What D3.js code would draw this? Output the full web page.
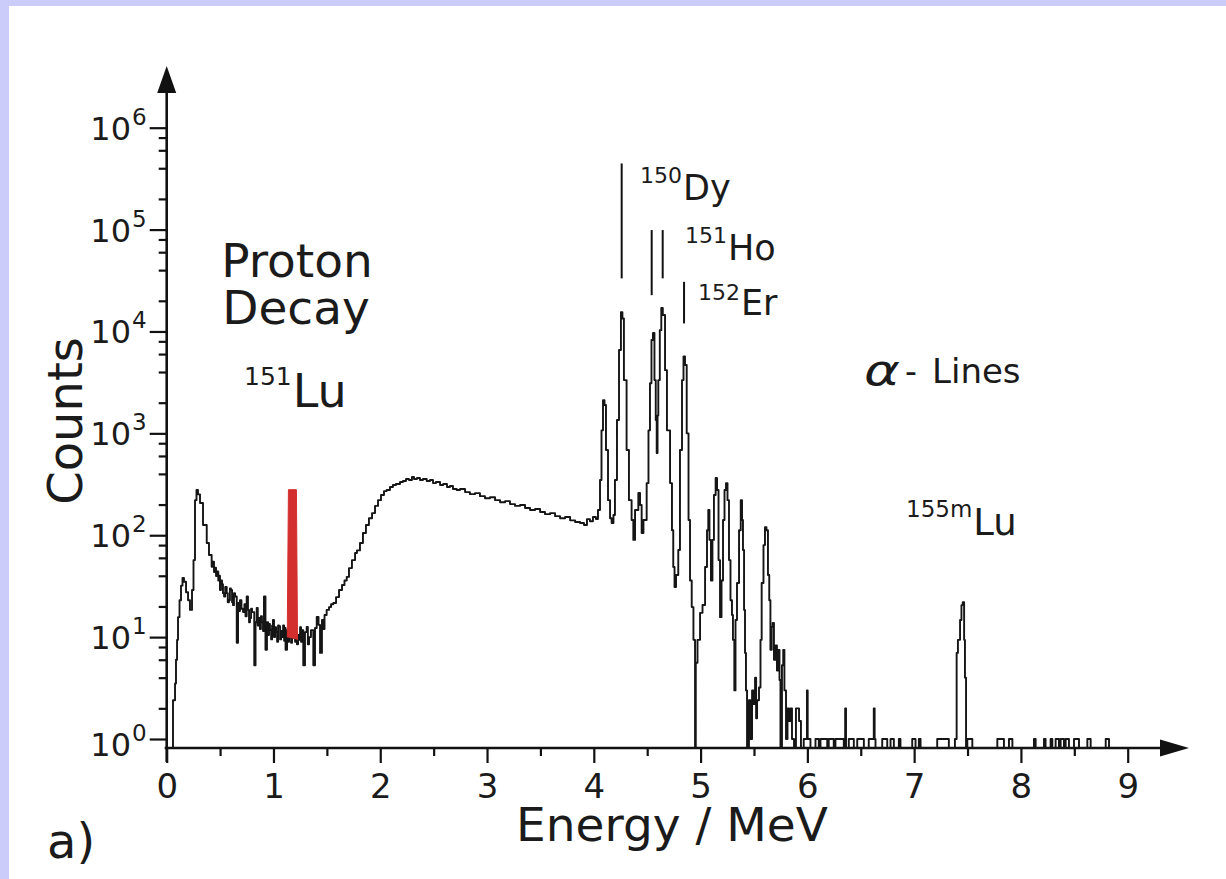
<!DOCTYPE html>
<html>
<head>
<meta charset="utf-8">
<script src="https://cdnjs.cloudflare.com/ajax/libs/d3/7.8.5/d3.min.js"></script>
<style>
body { margin: 0; background: #ccccfa; }
svg { display: block; }
text { font-family: 'DejaVu Sans', sans-serif; fill: #1b1b1b; }
</style>
</head>
<body>
<svg id="chart" width="1226" height="879"></svg>
<script>
// tick values
const ENERGY_TICKS = [0, 1, 2, 3, 4, 5, 6, 7, 8, 9];
const ENERGY_MINOR = [0.5, 1.5, 2.5, 3.5, 4.5, 5.5, 6.5, 7.5, 8.5];
const COUNT_DECADES = [0, 1, 2, 3, 4, 5, 6];
const MINOR_MANTISSA = [2, 4, 6, 8];

// spectrum, [energy MeV, counts]
const lowEnergy = [
    [0.05, 0], [0.059, 2.4], [0.078, 3.5], [0.087, 6], [0.097, 9.4], [0.106, 15.7], [0.12, 23],
    [0.134, 32], [0.148, 38], [0.162, 35], [0.181, 27.6], [0.2, 23], [0.218, 18.5], [0.237, 29],
    [0.251, 57], [0.265, 221], [0.279, 278], [0.293, 252], [0.312, 207], [0.34, 126], [0.375, 84],
    [0.396, 64], [0.421, 49], [0.43, 55], [0.443, 43.6], [0.452, 48], [0.462, 39.8], [0.47, 44],
    [0.483, 36], [0.49, 40], [0.499, 29], [0.508, 36], [0.518, 33], [0.527, 27], [0.537, 25],
    [0.548, 31], [0.562, 27], [0.572, 22], [0.583, 23], [0.592, 30], [0.602, 29], [0.612, 22],
    [0.621, 20.6], [0.63, 27], [0.64, 25], [0.656, 8.8], [0.668, 21.6], [0.677, 18], [0.686, 23],
    [0.7, 19], [0.715, 17.6], [0.728, 21], [0.738, 16], [0.749, 25], [0.761, 18.5], [0.771, 14],
    [0.78, 15.4], [0.79, 19], [0.799, 17.6], [0.82, 5.3], [0.832, 14], [0.843, 19.3], [0.853, 13],
    [0.864, 15.4], [0.873, 12], [0.882, 16], [0.892, 14], [0.902, 11.5], [0.911, 25], [0.925, 7.5],
    [0.939, 14], [0.95, 10.5], [0.958, 13.5], [0.967, 11.7], [0.978, 9.5], [0.987, 13], [0.995, 14.7],
    [1.005, 10], [1.015, 12.5], [1.024, 11.2], [1.034, 9], [1.043, 13], [1.052, 12.8], [1.062, 9.5],
    [1.071, 11.5], [1.08, 10], [1.09, 13], [1.1, 9.2], [1.108, 12.3], [1.113, 7.5], [1.127, 11.7],
    [1.137, 9], [1.146, 12], [1.155, 10.7], [1.165, 8.8], [1.174, 11], [1.183, 9.8], [1.193, 12],
    [1.202, 9], [1.211, 10.7], [1.22, 8.5], [1.23, 10.5], [1.239, 9.4], [1.249, 12.5], [1.258, 9],
    [1.267, 11.7], [1.279, 5.3], [1.295, 11.2], [1.311, 12.6], [1.322, 8.5], [1.333, 10],
    [1.351, 11.7], [1.373, 5.3], [1.389, 12.3], [1.405, 15.8], [1.422, 13.2], [1.436, 7],
    [1.454, 14.7], [1.466, 12], [1.478, 16.5], [1.498, 18.5], [1.52, 19.7], [1.539, 21], [1.56, 21.6],
    [1.586, 24.7], [1.614, 29], [1.642, 32.5], [1.665, 36], [1.686, 39], [1.707, 47.6], [1.735, 57],
    [1.764, 67], [1.782, 71], [1.81, 84], [1.838, 105], [1.866, 126], [1.894, 147], [1.923, 165],
    [1.951, 194], [1.979, 221]
];

const continuum = [
    [2.007, 248], [2.035, 271], [2.06, 278], [2.091, 297], [2.119, 311], [2.147, 318], [2.185, 333],
    [2.213, 341], [2.241, 356], [2.269, 348], [2.297, 373], [2.316, 356], [2.344, 364], [2.372, 348],
    [2.4, 356], [2.435, 341], [2.466, 348], [2.494, 325], [2.522, 333], [2.56, 311], [2.59, 318],
    [2.625, 297], [2.653, 304], [2.681, 284], [2.716, 278], [2.747, 284], [2.794, 265], [2.84, 253],
    [2.887, 259], [2.934, 242], [2.981, 231], [3.028, 236], [3.075, 221], [3.122, 211], [3.169, 216],
    [3.215, 202], [3.262, 194], [3.309, 198], [3.356, 185], [3.403, 177], [3.45, 181], [3.497, 169],
    [3.543, 161], [3.59, 165], [3.637, 154], [3.684, 147], [3.731, 151], [3.778, 140], [3.825, 135],
    [3.871, 132], [3.908, 126], [3.936, 144], [3.964, 137], [3.992, 151]
];

const alphaPeaks = [
    [4.02, 144], [4.039, 177], [4.058, 348], [4.072, 1070], [4.086, 2120], [4.1, 1900], [4.114, 686],
    [4.133, 221], [4.152, 147], [4.167, 132], [4.184, 158], [4.198, 348], [4.217, 1350], [4.236, 6570],
    [4.254, 15500], [4.268, 13400], [4.282, 3330], [4.307, 686], [4.329, 221], [4.354, 141], [4.37, 90],
    [4.386, 177], [4.417, 260], [4.433, 198], [4.448, 105], [4.465, 141], [4.495, 325], [4.512, 1070],
    [4.526, 3100], [4.54, 8240], [4.554, 9650], [4.568, 3330], [4.58, 1350], [4.589, 640], [4.597, 1500],
    [4.604, 3330], [4.618, 10300], [4.632, 17000], [4.646, 14500], [4.667, 4170], [4.685, 1070],
    [4.714, 325], [4.732, 112], [4.744, 48.7], [4.756, 31], [4.77, 40.7], [4.791, 71.6], [4.807, 686],
    [4.826, 3330], [4.84, 5700], [4.854, 4680], [4.87, 1000], [4.887, 141], [4.901, 36], [4.917, 19.7],
    [4.933, 9.4], [4.948, 0], [4.955, 5.6], [4.971, 9.4], [4.995, 17.3], [5.018, 20.7], [5.042, 48.7],
    [5.06, 112], [5.072, 177], [5.083, 90], [5.097, 36], [5.111, 90], [5.125, 248], [5.141, 364],
    [5.154, 278], [5.168, 57], [5.182, 15.7], [5.196, 36], [5.21, 141], [5.224, 278], [5.238, 325],
    [5.252, 221], [5.266, 57], [5.28, 23], [5.294, 16.5], [5.303, 9.4], [5.316, 3], [5.327, 14.7],
    [5.341, 34], [5.36, 112], [5.376, 221], [5.388, 141], [5.397, 71.6], [5.407, 18.5], [5.416, 7],
    [5.425, 3], [5.435, 0], [5.453, 2.4], [5.467, 1], [5.482, 3], [5.496, 2.2], [5.51, 4], [5.52, 1.6],
    [5.529, 2.4], [5.547, 3.2], [5.561, 9.4], [5.572, 34], [5.589, 80], [5.603, 120], [5.617, 112],
    [5.631, 40.7], [5.643, 23], [5.654, 7.5], [5.666, 12.6], [5.675, 13.8], [5.687, 6], [5.701, 8.3],
    [5.715, 4.7], [5.728, 7.5], [5.739, 3.8], [5.748, 0], [5.762, 5.3], [5.774, 7.5], [5.785, 3],
    [5.8, 1], [5.814, 2], [5.828, 1.5], [5.842, 2], [5.856, 1], [5.875, 0], [5.893, 2], [5.922, 1.5]
];

const tail = [
    [5.94, 0], [5.966, 1], [5.996, 3], [6.003, 1], [6.029, 0], [6.076, 1], [6.107, 0], [6.123, 1],
    [6.186, 0], [6.2, 1], [6.247, 0], [6.263, 1], [6.341, 0], [6.354, 2], [6.362, 0], [6.388, 1],
    [6.435, 0], [6.467, 1], [6.529, 0], [6.575, 1], [6.622, 2], [6.63, 1], [6.638, 0], [6.701, 1],
    [6.748, 0], [6.779, 1], [6.81, 0], [6.857, 1], [6.872, 0], [6.982, 1], [7.013, 0], [7.044, 1],
    [7.06, 0], [7.216, 1], [7.325, 0], [7.382, 1], [7.398, 7], [7.41, 9.4], [7.43, 14.7],
    [7.443, 20.6], [7.455, 22], [7.468, 9.4], [7.476, 4], [7.486, 0], [7.498, 1], [7.545, 0],
    [7.779, 1], [7.841, 0], [7.888, 1], [7.92, 0], [8.122, 1], [8.138, 0], [8.216, 1], [8.231, 0],
    [8.278, 1], [8.294, 0], [8.325, 1], [8.356, 0], [8.372, 1], [8.403, 0], [8.419, 1], [8.45, 0],
    [8.497, 1], [8.544, 0], [8.622, 1], [8.653, 0], [8.794, 1], [8.825, 0]
];

// 151Lu proton line (red)
const protonE = [1.13, 1.14, 1.215, 1.225];
const protonHigh = [14, 280, 280, 10];
const protonLow = [10, 10, 9.6, 9.4];

// isotope marker lines
const markE = [4.261, 4.542, 4.645, 4.845];
const markTop = [446000, 98900, 98900, 30700];
const markBottom = [33200, 22700, 33200, 12000];

var svg = d3.select('#chart');

svg.append('rect')
.attr('x', 9)
.attr('y', 6)
.attr('width', 1217)
.attr('height', 873)
.attr('fill', '#fff');

var x = d3.scaleLinear().domain([0, 9]).range([166.7, 1127.7]);
var y = d3.scaleLog().domain([1, 1e6]).range([739, 127.7]);
var AXIS_Y = 748;

function yPos(c) {
    return c > 0 ? y(c) : AXIS_Y;
}

// axes lines with arrows
svg.append('line')
.attr('x1', x(0)).attr('x2', x(0))
.attr('y1', 762).attr('y2', 80)
.attr('stroke', '#111').attr('stroke-width', 2.6);
svg.append('path')
.attr('d', `M${x(0)},66 L${x(0) - 9.5},93 L${x(0) + 9.5},93 Z`)
.attr('fill', '#111');

svg.append('line')
.attr('x1', x(0) - 2).attr('x2', 1170)
.attr('y1', AXIS_Y).attr('y2', AXIS_Y)
.attr('stroke', '#111').attr('stroke-width', 2.6);
svg.append('path')
.attr('d', `M1189,${AXIS_Y} L1160,${AXIS_Y - 8.5} L1160,${AXIS_Y + 8.5} Z`)
.attr('fill', '#111');

function styleAxis(g) {
    g.select('.domain').remove();
    g.selectAll('.tick line').attr('stroke', '#111').attr('stroke-width', 2.2);
}

svg.append('g')
.attr('transform', 'translate(0, ' + AXIS_Y + ')')
.call(d3.axisBottom(x).tickValues(ENERGY_MINOR).tickSize(8).tickFormat(''))
.call(styleAxis);

svg.append('g')
.attr('class', 'x-axis')
.attr('transform', 'translate(0, ' + AXIS_Y + ')')
.call(d3.axisBottom(x).tickValues(ENERGY_TICKS).tickSize(15).tickPadding(11).tickFormat(d3.format('d')))
.call(styleAxis)
.attr('font-size', 34)
.attr('font-family', 'DejaVu Sans')
.call(g => g.selectAll('text').attr('fill', '#1b1b1b'));

var minorCounts = [];
COUNT_DECADES.slice(0, -1).forEach(k => MINOR_MANTISSA.forEach(m => minorCounts.push(m * Math.pow(10, k))));

svg.append('g')
.attr('transform', 'translate(' + x(0) + ', 0)')
.call(d3.axisLeft(y).tickValues(minorCounts).tickSize(8).tickFormat(''))
.call(styleAxis);

svg.append('g')
.attr('transform', 'translate(' + x(0) + ', 0)')
.call(d3.axisLeft(y).tickValues(COUNT_DECADES.map(k => Math.pow(10, k))).tickSize(17).tickFormat(''))
.call(styleAxis);

svg.selectAll('.y-base')
.data(COUNT_DECADES)
.enter()
.append('text')
.attr('class', 'y-base')
.attr('x', 131)
.attr('y', k => y(Math.pow(10, k)) + 12 + (k === 0 ? 5 : 0))
.attr('text-anchor', 'end')
.attr('font-size', 32)
.text('10');

svg.selectAll('.y-exp')
.data(COUNT_DECADES)
.enter()
.append('text')
.attr('class', 'y-exp')
.attr('x', 132)
.attr('y', k => y(Math.pow(10, k)) - 3 + (k === 0 ? 5 : 0))
.attr('font-size', 23)
.text(k => k);

// spectrum
var spectrum = lowEnergy.concat(continuum, alphaPeaks, tail);

svg.append('path')
.datum(spectrum)
.attr('fill', 'none')
.attr('stroke', '#151515')
.attr('stroke-width', 1.9)
.attr('stroke-linejoin', 'round')
.attr('d', d3.line()
    .x(d => x(d[0]))
    .y(d => yPos(d[1]))
    .curve(d3.curveStepAfter));

// proton line
svg.append('path')
.datum(d3.range(protonE.length))
.attr('fill', '#d42f2f')
.attr('stroke', '#d42f2f')
.attr('stroke-width', 1)
.attr('d', d3.area()
    .x(i => x(protonE[i]))
    .y0(i => y(protonLow[i]))
    .y1(i => y(protonHigh[i])));

// isotope marks
svg.selectAll('.mark')
.data(markE)
.enter()
.append('line')
.attr('class', 'mark')
.attr('x1', d => x(d)).attr('x2', d => x(d))
.attr('y1', (d, i) => y(markTop[i]))
.attr('y2', (d, i) => y(markBottom[i]))
.attr('stroke', '#111')
.attr('stroke-width', 2);

function isotopeLabel(px, base, mass, symbol, supSize, mainSize, rise) {
    var t = svg.append('text').attr('x', px).attr('y', base);
    t.append('tspan').attr('font-size', supSize).attr('dy', -rise).text(mass);
    t.append('tspan').attr('font-size', mainSize).attr('dy', rise).attr('dx', 1).text(symbol);
}

isotopeLabel(640, 200, '150', 'Dy', 22, 35, 17);
isotopeLabel(685, 260, '151', 'Ho', 22, 35, 17);
isotopeLabel(698, 315, '152', 'Er', 22, 35, 15);
isotopeLabel(244, 407, '151', 'Lu', 25, 46, 22);
isotopeLabel(906, 535, '155m', 'Lu', 23, 37, 18);

svg.append('text')
.attr('x', 297).attr('y', 277)
.attr('text-anchor', 'middle')
.attr('font-size', 47)
.text('Proton');

svg.append('text')
.attr('x', 296).attr('y', 324)
.attr('text-anchor', 'middle')
.attr('font-size', 47)
.text('Decay');

svg.append('text')
.attr('transform', 'translate(864, 385) scale(1.3, 1)')
.attr('font-family', 'DejaVu Serif')
.attr('font-style', 'italic')
.attr('font-size', 42)
.text('α');

svg.append('text')
.attr('x', 905).attr('y', 383)
.attr('font-size', 33)
.text('-');

svg.append('text')
.attr('x', 932).attr('y', 383)
.attr('font-size', 34)
.text('Lines');

svg.append('text')
.attr('transform', 'translate(82, 421) rotate(-90)')
.attr('text-anchor', 'middle')
.attr('font-size', 48)
.text('Counts');

svg.append('text')
.attr('x', 672).attr('y', 841)
.attr('text-anchor', 'middle')
.attr('font-size', 47)
.text('Energy / MeV');

svg.append('text')
.attr('x', 47).attr('y', 858)
.attr('font-size', 48)
.text('a)');
</script>
</body>
</html>
